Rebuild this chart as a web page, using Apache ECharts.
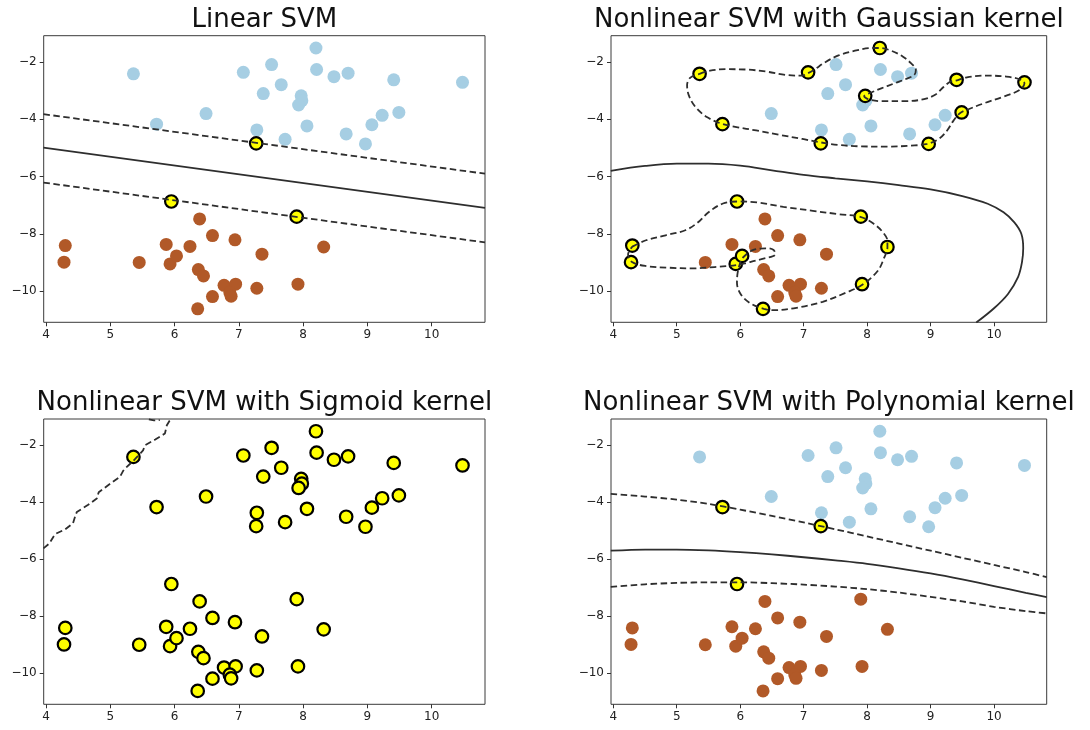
<!DOCTYPE html>
<html>
<head>
<meta charset="utf-8">
<title>SVM kernels</title>
<script src="https://cdn.jsdelivr.net/npm/echarts@6/dist/echarts.min.js"></script>
<style>
    html, body { margin: 0; padding: 0; background: #fff; }
    #chart_svm { width: 1090px; height: 730px; }
</style>
</head>
<body>
<div id="chart_svm"></div>
<script>
// data
var titles = ['Linear SVM', 'Nonlinear SVM with Gaussian kernel',
    'Nonlinear SVM with Sigmoid kernel', 'Nonlinear SVM with Polynomial kernel'];

var xTicks = [4, 5, 6, 7, 8, 9, 10];
var yTicks = [-10, -8, -6, -4, -2];

// upper blob (light blue)
var classA = [[5.36,-2.41],[5.72,-4.17],[6.49,-3.80],[7.07,-2.36],[7.51,-2.09],[7.66,-2.79],
    [7.38,-3.10],[7.28,-4.37],[7.27,-4.84],[7.72,-4.70],[7.97,-3.18],[7.98,-3.35],[7.93,-3.50],
    [8.06,-4.23],[8.20,-1.51],[8.21,-2.26],[8.48,-2.51],[8.70,-2.39],[8.67,-4.51],[8.97,-4.86],
    [9.07,-4.19],[9.23,-3.86],[9.41,-2.62],[9.49,-3.76],[10.48,-2.71]];

// lower blob (brown)
var classB = [[4.30,-8.41],[4.28,-8.99],[5.45,-9.00],[5.95,-6.87],[5.87,-8.37],[5.93,-9.05],
    [6.03,-8.77],[6.24,-8.44],[6.39,-7.48],[6.37,-9.25],[6.45,-9.47],[6.59,-8.06],[6.59,-10.19],
    [6.36,-10.62],[6.94,-8.21],[6.77,-9.80],[6.95,-9.76],[6.86,-10.05],[6.88,-10.18],[7.36,-8.71],
    [7.28,-9.90],[7.90,-7.40],[7.92,-9.76],[8.32,-8.46]];

// support vectors
var svLinear = [[7.27,-4.84],[5.95,-6.87],[7.90,-7.40]];
var svGauss = [[5.36,-2.41],[7.07,-2.36],[8.20,-1.51],[7.97,-3.18],[9.41,-2.62],[10.48,-2.71],
    [9.49,-3.76],[8.97,-4.86],[7.27,-4.84],[5.72,-4.17],[5.95,-6.87],[7.90,-7.40],[8.32,-8.46],
    [7.92,-9.76],[6.36,-10.62],[4.30,-8.41],[4.28,-8.99],[5.93,-9.05],[6.03,-8.77]];
var svSigmoid = classA.concat(classB);
var svPoly = [[5.72,-4.17],[7.27,-4.84],[5.95,-6.87]];

// decision function contours
var linUpper = [[3.96,-3.82],[10.83,-5.90]];
var linMid = [[3.96,-4.99],[10.83,-7.09]];
var linLower = [[3.96,-6.21],[10.83,-8.30]];

var gaussMid = [[3.96,-5.80],[4.5,-5.63],[5.0,-5.55],[5.5,-5.55],[6.0,-5.62],[6.5,-5.78],[7.0,-5.94],
    [7.5,-6.06],[8.0,-6.17],[8.5,-6.30],[9.0,-6.45],[9.5,-6.68],[9.9,-6.95],[10.15,-7.25],
    [10.32,-7.6],[10.43,-8.0],[10.46,-8.5],[10.44,-9.0],[10.38,-9.5],[10.22,-10.1],[10.0,-10.6],[9.72,-11.1]];
var gaussUpper = [[5.36,-2.415],[5.526,-2.298],[5.785,-2.250],[6.097,-2.262],[6.408,-2.333],
    [6.719,-2.450],[6.978,-2.474],[7.046,-2.415],[7.160,-2.274],[7.341,-2.004],[7.549,-1.769],
    [7.808,-1.604],[8.068,-1.510],[8.197,-1.510],[8.379,-1.604],[8.560,-1.804],[8.690,-2.039],
    [8.768,-2.274],[8.742,-2.450],[8.612,-2.591],[8.431,-2.744],[8.223,-2.920],[8.068,-3.062],
    [7.954,-3.191],[8.016,-3.297],[8.223,-3.367],[8.586,-3.367],[8.898,-3.297],[9.079,-3.132],
    [9.209,-2.862],[9.313,-2.685],[9.401,-2.650],[9.572,-2.533],[9.883,-2.474],[10.194,-2.509],
    [10.402,-2.603],[10.480,-2.744],[10.402,-2.979],[10.142,-3.214],[9.831,-3.449],[9.598,-3.649],
    [9.468,-3.778],[9.364,-4.037],[9.261,-4.390],[9.131,-4.684],[8.949,-4.860],[8.690,-4.919],
    [8.327,-4.954],[7.860,-4.942],[7.549,-4.895],[7.253,-4.801],[6.978,-4.684],[6.615,-4.543],
    [6.252,-4.390],[5.941,-4.272],[5.708,-4.155],[5.474,-3.920],[5.293,-3.567],[5.189,-3.156],
    [5.163,-2.803],[5.215,-2.544],[5.36,-2.415]];
var gaussLower = [[4.300,-8.447],[4.516,-8.225],[4.826,-8.050],[5.135,-7.875],[5.331,-7.606],
    [5.496,-7.255],[5.728,-6.940],[5.960,-6.870],[6.269,-6.905],[6.681,-7.057],[7.145,-7.197],
    [7.557,-7.314],[7.892,-7.407],[8.098,-7.641],[8.253,-7.956],[8.320,-8.248],[8.320,-8.482],
    [8.269,-8.833],[8.166,-9.300],[7.918,-9.791],[7.660,-10.059],[7.300,-10.375],[6.887,-10.585],
    [6.527,-10.667],[6.372,-10.620],[6.166,-10.433],[6.011,-10.118],[5.949,-9.709],[5.960,-9.358],
    [6.001,-9.008],[6.052,-8.809],[6.217,-8.552],[6.423,-8.505],[6.527,-8.564],[6.552,-8.716],
    [6.320,-8.891],[6.114,-9.008],[5.949,-9.090],[5.599,-9.160],[5.238,-9.206],[4.877,-9.183],
    [4.516,-9.125],[4.295,-8.984],[4.233,-8.716],[4.300,-8.447]];

var sigUpper = [[3.96,-5.62],[4.05,-5.45],[4.14,-5.12],[4.3,-4.95],[4.42,-4.74],[4.46,-4.45],
    [4.48,-4.34],[4.65,-4.1],[4.79,-3.87],[4.82,-3.65],[4.84,-3.58],[5.0,-3.35],[5.15,-3.11],
    [5.2,-2.9],[5.23,-2.82],[5.38,-2.5],[5.51,-2.18],[5.54,-2.0],[5.7,-1.8],[5.85,-1.59],
    [5.88,-1.3],[5.92,-1.15],[5.95,-1.08]];
var sigTop = [[5.6,-1.09],[5.68,-1.13],[5.77,-1.12]];

var polyUpper = [[3.96,-3.71],[4.5,-3.80],[5,-3.91],[5.5,-4.06],[6,-4.26],[6.5,-4.48],[7,-4.71],
    [7.5,-4.95],[8,-5.20],[8.5,-5.45],[9,-5.70],[9.5,-5.95],[10,-6.20],[10.5,-6.45],[10.83,-6.63]];
var polyMid = [[3.96,-5.70],[4.5,-5.66],[5,-5.66],[5.5,-5.69],[6,-5.75],[6.5,-5.83],[7,-5.93],
    [7.5,-6.04],[8,-6.16],[8.5,-6.32],[9,-6.50],[9.5,-6.71],[10,-6.94],[10.5,-7.18],[10.83,-7.33]];
var polyLower = [[3.96,-6.97],[4.5,-6.88],[5,-6.83],[5.5,-6.81],[6,-6.81],[6.5,-6.84],[7,-6.89],
    [7.5,-6.96],[8,-7.05],[8.5,-7.17],[9,-7.32],[9.5,-7.48],[10,-7.67],[10.5,-7.82],[10.83,-7.90]];

var panels = [
    {sv: svLinear, solid: [linMid], dashed: [linUpper, linLower], smooth: false},
    {sv: svGauss, solid: [gaussMid], dashed: [gaussUpper, gaussLower], smooth: 0.35},
    {sv: svSigmoid, solid: [], dashed: [sigUpper, sigTop], smooth: false},
    {sv: svPoly, solid: [polyMid], dashed: [polyUpper, polyLower], smooth: 0.3}
];

// layout
var grids = [
    {left: 43.7, top: 35.7, width: 441.3, height: 286.6},
    {left: 611, top: 35.7, width: 435.7, height: 286.6},
    {left: 43.7, top: 419, width: 441.3, height: 285.3},
    {left: 611, top: 419, width: 435.7, height: 285.3}
];
var titleTop = [7, 7, 390, 390];

function minus(v) {
    return v < 0 ? '\u2212' + Math.abs(v) : String(v);
}

var myChart = echarts.init(document.getElementById('chart_svm'), null, {renderer: 'canvas'});

var option = {
    animation: false,
    backgroundColor: '#fff',
    title: [],
    grid: [],
    xAxis: [],
    yAxis: [],
    series: []
};

for (var i = 0; i < 4; i++) {
    var g = grids[i];
    option.title.push({
        text: titles[i],
        left: g.left + g.width / 2,
        top: titleTop[i],
        textAlign: 'center',
        padding: 0,
        textStyle: {fontFamily: 'DejaVu Sans', fontSize: 26, fontWeight: 'normal', color: '#111'}
    });
    option.grid.push({
        left: g.left, top: g.top, width: g.width, height: g.height,
        show: true, borderColor: '#3a3a3a', borderWidth: 1, backgroundColor: '#fff'
    });
    option.xAxis.push({
        type: 'value', gridIndex: i, min: 3.964, max: 10.83,
        axisLine: {show: false},
        splitLine: {show: false},
        axisTick: {show: true, length: 4, customValues: xTicks, lineStyle: {color: '#333'}},
        axisLabel: {customValues: xTicks, margin: 7, fontSize: 12, color: '#222',
            fontFamily: 'DejaVu Sans', formatter: minus}
    });
    option.yAxis.push({
        type: 'value', gridIndex: i, min: -11.09, max: -1.08,
        axisLine: {show: false},
        splitLine: {show: false},
        axisTick: {show: true, length: 4, customValues: yTicks, lineStyle: {color: '#333'}},
        axisLabel: {customValues: yTicks, margin: 7, fontSize: 12, color: '#222',
            fontFamily: 'DejaVu Sans', formatter: minus}
    });

    var p = panels[i];
    option.series.push({
        type: 'scatter', xAxisIndex: i, yAxisIndex: i, data: classA,
        symbolSize: 13, itemStyle: {color: '#a6cee3', opacity: 1}, z: 2, silent: true
    });
    option.series.push({
        type: 'scatter', xAxisIndex: i, yAxisIndex: i, data: classB,
        symbolSize: 13, itemStyle: {color: '#b15928', opacity: 1}, z: 2, silent: true
    });
    option.series.push({
        type: 'scatter', xAxisIndex: i, yAxisIndex: i, data: p.sv,
        symbolSize: 12.5, itemStyle: {color: '#ffff00', borderColor: '#000', borderWidth: 2.2, opacity: 1},
        z: 3, silent: true
    });
    p.solid.forEach(function (d) {
        option.series.push({
            type: 'line', xAxisIndex: i, yAxisIndex: i, data: d,
            showSymbol: false, symbol: 'none', smooth: p.smooth, z: 4, silent: true,
            lineStyle: {color: '#2e2e2e', width: 1.8, type: 'solid'}
        });
    });
    p.dashed.forEach(function (d) {
        option.series.push({
            type: 'line', xAxisIndex: i, yAxisIndex: i, data: d,
            showSymbol: false, symbol: 'none', smooth: p.smooth, z: 4, silent: true,
            lineStyle: {color: '#2e2e2e', width: 1.8, type: [6.5, 3.5]}
        });
    });
}

myChart.setOption(option);
</script>
</body>
</html>
